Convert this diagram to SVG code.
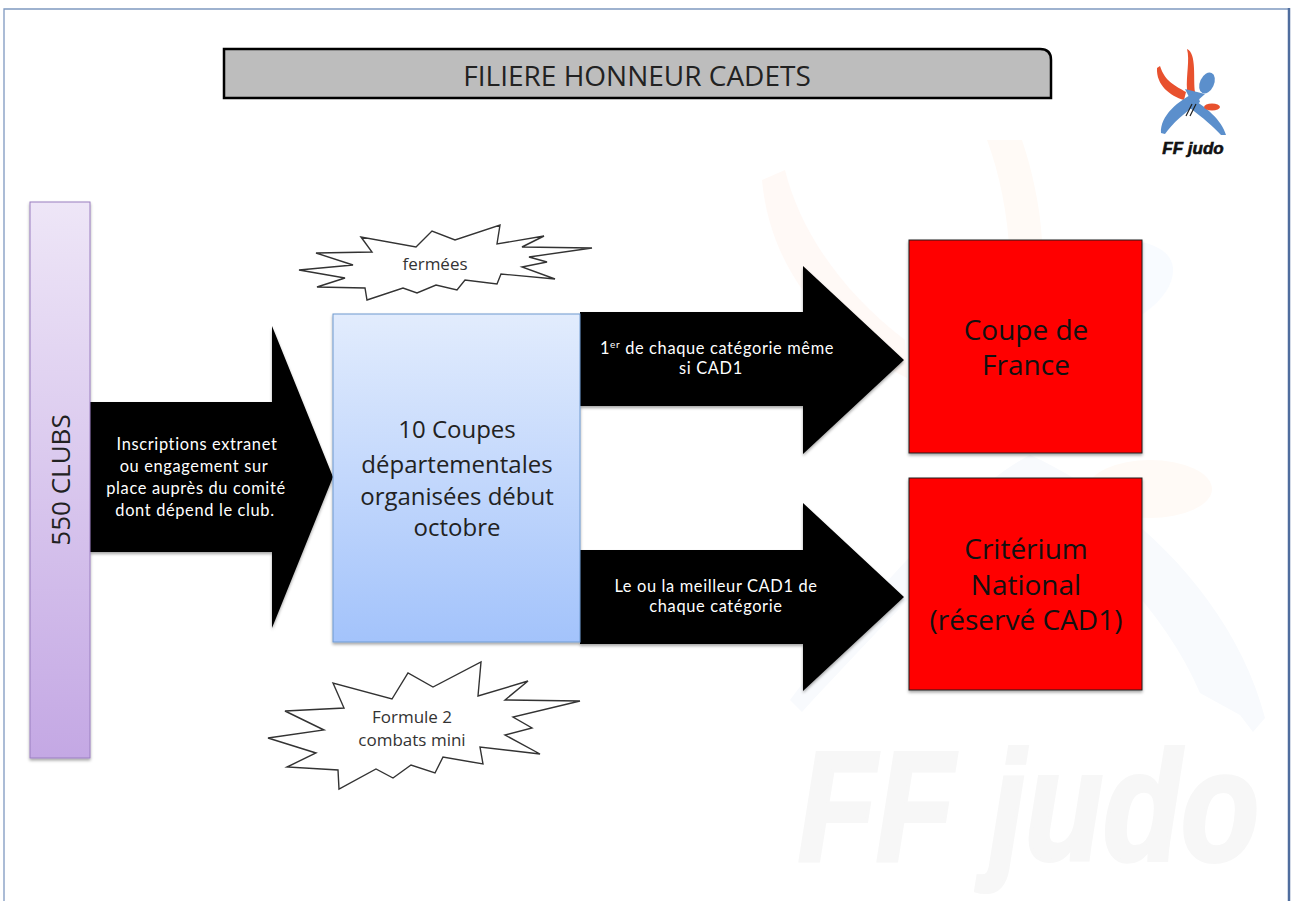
<svg xmlns="http://www.w3.org/2000/svg" width="1292" height="901" viewBox="0 0 1292 901">
<defs>
<linearGradient id="gLilac" x1="0" y1="0" x2="0" y2="1"><stop offset="0" stop-color="#eee6f7"/><stop offset="1" stop-color="#c4a8e4"/></linearGradient>
<linearGradient id="gBlue" x1="0" y1="0" x2="0" y2="1"><stop offset="0" stop-color="#e2ecfd"/><stop offset="1" stop-color="#a3c3fb"/></linearGradient>
<filter id="sh" x="-10%" y="-10%" width="120%" height="120%"><feDropShadow dx="0" dy="2" stdDeviation="1.5" flood-color="#000" flood-opacity=".35"/></filter>
</defs>
<style>
text{font-family:"Open Sans","Noto Sans","Liberation Sans",sans-serif;text-anchor:middle}
.arrow{fill:#000;filter:url(#sh)}
.wt{fill:#fff;font-family:Lato,"Open Sans",sans-serif;font-size:16.4px;letter-spacing:.65px}
.red{fill:#ff0000;stroke:#222;stroke-width:1;filter:url(#sh)}
.rt{fill:#111;font-size:28px}
.star{fill:#fff;stroke:#333;stroke-width:1.4}
.st{fill:#333;font-size:17px}
.bt{fill:#222;font-size:24px}
</style>
<rect width="1292" height="901" fill="#fff"/>
<g id="frame" fill="none">
<path d="M4 901V9H1289" stroke="#7f99c0" stroke-width="1.3"/>
<path d="M1289 8V901" stroke="#4f6d9e" stroke-width="2.5"/>
</g>
<g id="watermark">
<path d="M762 180L785 170C800 230 840 290 905 340L907 378C830 340 770 270 762 180Z" fill="#fff9f6"/>
<path d="M987 140H1022C1032 170 1040 205 1042 240L1010 260C1008 215 1000 175 987 140Z" fill="#fffaf6"/>
<path d="M1050 250C1100 232 1170 235 1173 268C1175 300 1130 325 1100 336L1060 300Z" fill="#f8fbff"/>
<path d="M790 700C850 620 960 490 1030 455C1130 500 1235 600 1265 718L1253 732L1240 715L1200 693C1170 620 1090 530 1020 500C960 540 860 650 802 712Z" fill="#f8fafd"/>
<ellipse cx="1150" cy="489" rx="62" ry="29" fill="#fffaf6"/>
<text transform="translate(798 860) scale(.824 1)" font-size="155" font-weight="700" font-style="italic" fill="#f7f7f7" stroke="#f7f7f7" stroke-width="4" style="font-family:'Liberation Sans',sans-serif;text-anchor:start">FF judo</text>
</g>
<g id="connectors">
<path class="arrow" d="M90 402H272V326L333 477L272 628V552H90Z"/>
<path class="arrow" d="M580 312H803V266L904 360L803 454V406H580Z"/>
<path class="arrow" d="M580 550H803V503L904 597L803 691V644H580Z"/>
<text class="wt" x="197" y="450">Inscriptions extranet</text>
<text class="wt" x="194" y="472">ou engagement sur</text>
<text class="wt" x="196" y="494">place auprès du comité</text>
<text class="wt" x="195" y="516">dont dépend le club.</text>
<text class="wt" x="717" y="354">1<tspan font-size="10" dy="-6">er</tspan><tspan dy="6"> de chaque catégorie même</tspan></text>
<text class="wt" x="711" y="374">si CAD1</text>
<text class="wt" x="716" y="592">Le ou la meilleur CAD1 de</text>
<text class="wt" x="716" y="612">chaque catégorie</text>
</g>
<g id="title">
<path d="M224 49H1040Q1051 49 1051 60V98H224Z" fill="#bdbdbd" stroke="#000" stroke-width="2.5"/>
<text x="637" y="86" font-size="28" fill="#222">FILIERE HONNEUR CADETS</text>
</g>
<g id="logo">
<path d="M1187 49C1197 53 1193 80 1195 92L1198 109L1187 90C1186 75 1190 60 1187 49Z" fill="#e8512e"/>
<path d="M1157 68L1160 66C1165 82 1176 86 1186 92L1184 100C1170 96 1156 85 1157 68Z" fill="#e8512e"/>
<ellipse cx="1207" cy="83" rx="7" ry="11" fill="#5b8fcc" transform="rotate(25 1207 83)"/>
<path d="M1185 89L1205 94L1196 102L1189 97Z" fill="#5b8fcc"/>
<path d="M1197 92C1178 100 1160 116 1161 133L1165 134C1172 124 1185 112 1200 102Z" fill="#5b8fcc"/>
<path d="M1190 98C1205 106 1222 120 1226 135L1221 135C1213 126 1203 118 1190 108Z" fill="#5b8fcc"/>
<ellipse cx="1212" cy="107" rx="8" ry="3.5" fill="#e8512e"/>
<path d="M1192 104L1186 116M1196 104L1190 116" stroke="#222" stroke-width="1.2"/>
<text x="1193" y="154" font-size="17" font-weight="700" font-style="italic" fill="#111" stroke="#111" stroke-width=".6" style="font-family:'Liberation Sans',sans-serif">FF judo</text>
</g>
<g id="clubs">
<rect x="30" y="202" width="60" height="556" fill="url(#gLilac)" stroke="#9a7fc0" stroke-width="1" filter="url(#sh)"/>
<text transform="translate(70 480) rotate(-90)" font-size="26" fill="#222">550 CLUBS</text>
</g>
<g id="coupes">
<rect x="333" y="314" width="247" height="328" fill="url(#gBlue)" stroke="#6f9ad0" stroke-width="1" filter="url(#sh)"/>
<text class="bt" x="457" y="438">10 Coupes</text>
<text class="bt" x="457" y="473">départementales</text>
<text class="bt" x="457" y="505">organisées début</text>
<text class="bt" x="457" y="536">octobre</text>
</g>
<g id="france">
<rect class="red" x="909" y="240" width="233" height="213"/>
<text class="rt" x="1026" y="340">Coupe de</text>
<text class="rt" x="1026" y="375">France</text>
</g>
<g id="criterium">
<rect class="red" x="909" y="478" width="233" height="212"/>
<text class="rt" x="1026" y="559">Critérium</text>
<text class="rt" x="1026" y="595">National</text>
<text class="rt" x="1026" y="630">(réservé CAD1)</text>
</g>
<g id="fermees">
<polygon class="star" points="361,237 372,252 316,253 353,265 299,270 345,278 317,287 365,288 367,300 403,288 417,293 436,285 457,290 465,280 497,284 501,274 555,279 522,267 547,262 529,257 592,248 522,247 544,236 497,244 500,225 455,240 432,231 416,247"/>
<text class="st" x="435" y="270">fermées</text>
</g>
<g id="formule">
<polygon class="star" points="333,683 344,708 285,711 324,730 268,738 316,753 287,767 338,770 339,789 376,769 393,778 411,765 435,773 443,757 483,764 480,747 540,754 505,735 532,728 513,717 580,701 505,700 528,681 478,696 481,662 433,687 408,673 392,699"/>
<text class="st" x="412" y="723">Formule 2</text>
<text class="st" x="412" y="746">combats mini</text>
</g>
</svg>
